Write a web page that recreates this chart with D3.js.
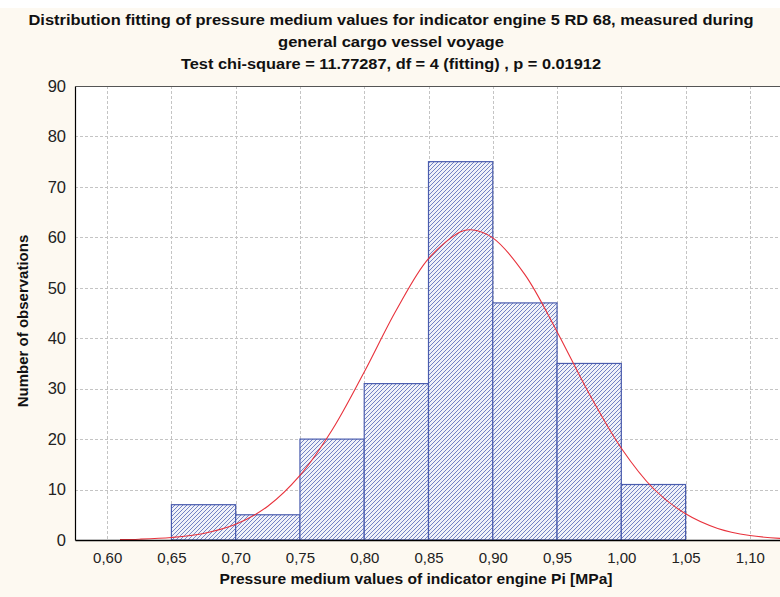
<!DOCTYPE html>
<html>
<head>
<meta charset="utf-8">
<script src="https://cdn.jsdelivr.net/npm/d3@7"></script>
<style>
  body { margin: 0; background: #fff; }
  svg { display: block; font-family: "Liberation Sans", Arial, sans-serif; }
</style>
</head>
<body>
<svg id="chart" width="780" height="597"></svg>
<script>
// bins (lower edge), counts
const binStart = [0.65, 0.70, 0.75, 0.80, 0.85, 0.90, 0.95, 1.00];
const binCount = [7, 5, 20, 31, 75, 47, 35, 11];
const binWidth = 0.05;

// fitted normal curve
const curveX = [0.61, 0.625, 0.65, 0.675, 0.70, 0.725, 0.75, 0.775, 0.80, 0.825, 0.85, 0.875, 0.883,
                0.90, 0.925, 0.95, 0.975, 1.00, 1.025, 1.05, 1.075, 1.10, 1.125];
const curveY = [0.08, 0.16, 0.5, 1.3, 3.1, 6.7, 12.8, 21.8, 33.3, 45.6, 55.8, 61.1, 61.5,
                59.9, 52.6, 41.3, 29.0, 18.2, 10.2, 5.2, 2.3, 0.9, 0.3];

const xTicks = [0.60, 0.65, 0.70, 0.75, 0.80, 0.85, 0.90, 0.95, 1.00, 1.05, 1.10];
const yTicks = [0, 10, 20, 30, 40, 50, 60, 70, 80, 90];

const titleLines = [
  "Distribution fitting of pressure medium values for indicator engine  5 RD 68, measured during",
  "general cargo vessel voyage",
  "Test chi-square = 11.77287, df = 4 (fitting) , p = 0.01912"
];
const xLabel = "Pressure medium values of indicator engine  Pi  [MPa]";
const yLabel = "Number of observations";

const svg = d3.select("#chart");
const W = 780, H = 597;
const plot = { left: 75, top: 86, right: 782, bottom: 540 };

// background
svg.append("rect").attr("width", W).attr("height", H).attr("fill", "#fdf9f1");
svg.append("rect").attr("width", W).attr("height", 8).attr("fill", "#ffffff");

const x = d3.scaleLinear().domain([0.575, 1.125]).range([plot.left, plot.right]);
const y = d3.scaleLinear().domain([0, 90]).range([plot.bottom, plot.top]);

// hatch pattern for the bars
const defs = svg.append("defs");
const pat = defs.append("pattern")
  .attr("id", "hatch")
  .attr("patternUnits", "userSpaceOnUse")
  .attr("width", 4).attr("height", 4);
pat.append("rect").attr("width", 4).attr("height", 4).attr("fill", "#f0f2f9");
pat.append("path")
  .attr("d", "M-1,1 L1,-1 M0,4 L4,0 M3,5 L5,3")
  .attr("stroke", "#7383c4").attr("stroke-width", 1);

svg.append("rect")
  .attr("x", plot.left).attr("y", plot.top)
  .attr("width", plot.right - plot.left).attr("height", plot.bottom - plot.top)
  .attr("fill", "#ffffff");

// grid
const grid = svg.append("g").attr("stroke", "#c4c4c4").attr("stroke-dasharray", "3,2").attr("stroke-width", 1);
grid.selectAll("line.v").data(xTicks).enter().append("line")
  .attr("x1", d => Math.round(x(d)) + 0.5).attr("x2", d => Math.round(x(d)) + 0.5)
  .attr("y1", plot.top).attr("y2", plot.bottom);
grid.selectAll("line.h").data(yTicks.filter(d => d > 0 && d < 90)).enter().append("line")
  .attr("x1", plot.left).attr("x2", plot.right)
  .attr("y1", d => Math.round(y(d)) + 0.5).attr("y2", d => Math.round(y(d)) + 0.5);

// bars
svg.append("g").selectAll("rect").data(binStart).enter().append("rect")
  .attr("x", d => x(d))
  .attr("width", d => x(d + binWidth) - x(d))
  .attr("y", (d, i) => y(binCount[i]))
  .attr("height", (d, i) => y(0) - y(binCount[i]))
  .attr("fill", "url(#hatch)")
  .attr("stroke", "#4a5cae")
  .attr("stroke-width", 1.2);

// fitted curve
const line = d3.line()
  .x((d, i) => x(curveX[i]))
  .y(d => y(d))
  .curve(d3.curveCatmullRom);
svg.append("path")
  .datum(curveY)
  .attr("d", line)
  .attr("fill", "none")
  .attr("stroke", "#e8323c")
  .attr("stroke-width", 1.1);

// axes
const fmt = d => d3.format(".2f")(d).replace(".", ",");
const xAxis = svg.append("g")
  .attr("transform", `translate(0,${plot.bottom})`)
  .call(d3.axisBottom(x).tickValues(xTicks).tickFormat(fmt).tickSize(0).tickPadding(12));
xAxis.select(".domain").attr("stroke", "#000").attr("stroke-width", 1.5);
xAxis.selectAll("text").attr("font-size", 15).attr("fill", "#222");

const yAxis = svg.append("g")
  .attr("transform", `translate(${plot.left},0)`)
  .call(d3.axisLeft(y).tickValues(yTicks).tickSize(0).tickPadding(9));
yAxis.select(".domain").attr("stroke", "#000").attr("stroke-width", 1.2);
yAxis.selectAll("text").attr("font-size", 16.5).attr("fill", "#222");

// top border
svg.append("line")
  .attr("x1", plot.left).attr("x2", plot.right)
  .attr("y1", plot.top + 0.5).attr("y2", plot.top + 0.5)
  .attr("stroke", "#555");

// titles
const titleY = [25, 47, 69];
const titleLen = [725, 226, 420];
svg.append("g").selectAll("text").data(titleLines).enter().append("text")
  .attr("x", W / 2 + 1)
  .attr("y", (d, i) => titleY[i])
  .attr("text-anchor", "middle")
  .attr("font-size", 14)
  .attr("font-weight", "bold")
  .attr("fill", "#111")
  .attr("textLength", (d, i) => titleLen[i])
  .attr("lengthAdjust", "spacingAndGlyphs")
  .text(d => d);

svg.append("text")
  .attr("x", 416).attr("y", 584)
  .attr("text-anchor", "middle")
  .attr("font-size", 15)
  .attr("font-weight", "bold")
  .attr("fill", "#111")
  .attr("textLength", 393)
  .attr("lengthAdjust", "spacingAndGlyphs")
  .text(xLabel);

svg.append("text")
  .attr("transform", "translate(28,321) rotate(-90)")
  .attr("text-anchor", "middle")
  .attr("font-size", 15)
  .attr("font-weight", "bold")
  .attr("fill", "#111")
  .text(yLabel);
</script>
</body>
</html>
